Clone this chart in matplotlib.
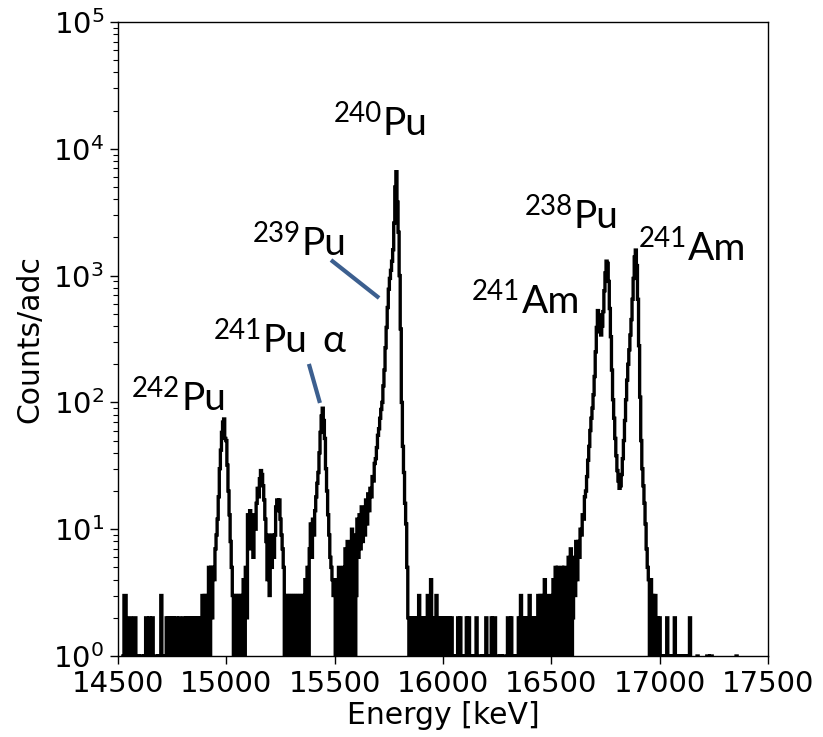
import numpy as np
import matplotlib
matplotlib.use("Agg")
import matplotlib.pyplot as plt
from matplotlib.ticker import LogLocator, NullFormatter, FixedLocator, FormatStrFormatter

# ---------------- data (counts per 5 keV bin) ----------------
E_START = 14500
BIN_KEV = 5

counts_14500 = [0, 0, 0, 0, 0, 1, 3, 3, 1, 0,
                2, 2, 0, 1, 0, 2, 2, 0, 1, 1,
                0, 1, 1, 0, 1, 0, 2, 0, 1, 2,
                0, 1, 2, 0, 0, 1, 0, 1, 0, 1,
                3, 0, 1, 0, 1, 2, 1, 2, 0, 2,
                1, 2, 0, 1, 2, 0, 1, 2, 0, 1,
                0, 2, 1, 2, 2, 0, 2, 1, 2, 0,
                2, 0, 2, 1, 2, 0, 2, 0, 3, 1,
                3, 0, 3, 0, 5, 0, 5, 2, 5, 4,
                7, 9, 12, 18, 30, 42, 58, 70, 74, 52]

counts_15000 = [50, 32, 20, 13, 8, 5, 3, 0, 3, 0,
                3, 0, 3, 0, 3, 0, 4, 0, 5, 2,
                13, 7, 14, 10, 12, 6, 13, 10, 16, 21,
                18, 25, 29, 27, 22, 17, 12, 8, 4, 9,
                3, 8, 5, 9, 6, 9, 15, 17, 14, 17,
                12, 9, 7, 5, 0, 3, 0, 3, 0, 3,
                0, 3, 1, 3, 0, 3, 0, 3, 0, 3,
                0, 3, 0, 4, 0, 5, 0, 7, 11, 6,
                12, 9, 14, 18, 23, 28, 40, 58, 78, 90,
                72, 52, 30, 20, 13, 9, 6, 5, 4, 3]

counts_15500 = [3, 0, 4, 0, 5, 0, 4, 1, 5, 0,
                7, 0, 8, 0, 6, 2, 10, 0, 9, 0,
                3, 12, 6, 13, 7, 15, 8, 14, 9, 17,
                11, 19, 14, 21, 18, 26, 24, 33, 36, 44,
                55, 62, 75, 88, 100, 135, 180, 270, 390, 560,
                780, 950, 1100, 1300, 1600, 2600, 5000, 6600, 3800, 2200,
                1000, 380, 100, 45, 28, 16, 11, 5, 2, 0,
                2, 0, 2, 1, 2, 0, 2, 0, 3, 0,
                2, 0, 2, 1, 2, 0, 3, 0, 2, 4,
                0, 2, 0, 2, 3, 0, 2, 0, 2, 0]

counts_16000 = [2, 0, 2, 1, 2, 0, 2, 0, 2, 0,
                1, 0, 1, 0, 2, 0, 2, 0, 1, 1,
                0, 1, 2, 0, 2, 1, 0, 1, 0, 1,
                0, 2, 0, 1, 1, 0, 1, 0, 1, 0,
                2, 1, 0, 1, 0, 2, 0, 2, 2, 0,
                1, 1, 0, 1, 1, 0, 1, 1, 0, 0,
                2, 2, 1, 2, 0, 1, 1, 0, 1, 0,
                2, 0, 3, 0, 2, 0, 2, 1, 2, 0,
                3, 0, 2, 0, 2, 1, 2, 0, 3, 0,
                3, 0, 3, 0, 4, 1, 3, 0, 2, 0]

counts_16500 = [3, 0, 4, 0, 5, 1, 5, 0, 4, 0,
                5, 0, 5, 1, 4, 0, 6, 0, 7, 0,
                2, 6, 3, 8, 4, 8, 6, 10, 9, 13,
                12, 18, 20, 26, 35, 45, 60, 75, 90, 115,
                160, 250, 390, 530, 490, 360, 340, 400, 520, 760,
                1050, 1300, 1250, 900, 550, 330, 180, 105, 75, 52,
                38, 29, 24, 21, 22, 27, 36, 50, 72, 105,
                150, 200, 260, 340, 450, 650, 950, 1400, 1590, 1200,
                650, 280, 110, 50, 30, 22, 16, 11, 7, 5,
                4, 0, 4, 0, 3, 0, 3, 0, 2, 0]

counts_17000 = [2, 0, 1, 0, 1, 0, 1, 2, 0, 1,
                0, 1, 0, 1, 2, 0, 1, 0, 1, 0,
                1, 0, 1, 0, 1, 0, 1, 0, 2, 0,
                0, 0, 0, 0, 0, 1, 0, 0, 0, 0,
                0, 0, 0, 0, 1, 1, 0, 1, 1, 0,
                0, 0, 0, 0, 0, 0, 0, 0, 0, 0,
                0, 0, 0, 0, 0, 0, 0, 0, 0, 0,
                0, 1, 0, 0, 0, 0, 0, 0, 0, 0,
                0, 0, 0, 0, 0, 0, 0, 0, 0, 0,
                0, 0, 0, 0, 0, 0, 0, 0, 0, 0]

counts = np.array(counts_14500 + counts_15000 + counts_15500 +
                  counts_16000 + counts_16500 + counts_17000, dtype=float)
energy = E_START + BIN_KEV * np.arange(len(counts))

x_ticks = [14500, 15000, 15500, 16000, 16500, 17000, 17500]

# isotope labels: mass number, symbol, anchor energy and count (baseline, join point)
label_mass = ["242", "241", "239", "240", "241", "238", "241"]
label_sym = ["Pu", "Pu", "Pu", "Pu", "Am", "Pu", "Am"]
label_E = [14791, 15169, 15349, 15723, 16364, 16604, 17131]
label_y = [87, 250, 1453, 12850, 507, 2373, 1327]

alpha_E = 15441
alpha_y = 250

# pointer lines (from label towards peak)
pointer_E = [(15483, 15705), (15381, 15432)]
pointer_y = [(1327, 666), (201, 99)]

# ---------------- figure ----------------
W, H = 823, 737
fig = plt.figure(figsize=(W / 100, H / 100), dpi=100)
ax = fig.add_axes([118 / W, (H - 656) / H, 650 / W, 634 / H])

ax.plot(energy, counts, drawstyle="steps-mid", color="black", lw=2.4,
        solid_joinstyle="miter")

ax.set_yscale("log")
ax.set_ylim(1, 1e5)
ax.set_xlim(14500, 17500)
ax.xaxis.set_major_locator(FixedLocator(x_ticks))
ax.xaxis.set_major_formatter(FormatStrFormatter("%d"))
ax.yaxis.set_major_locator(LogLocator(base=10, numticks=10))
ax.yaxis.set_minor_locator(LogLocator(base=10, subs=np.arange(2, 10), numticks=10))
ax.yaxis.set_minor_formatter(NullFormatter())

for sp in ax.spines.values():
    sp.set_linewidth(1.0)

ax.tick_params(axis="both", which="major", labelsize=21, length=6, width=1.0,
               direction="out", pad=4, colors="black")
ax.tick_params(axis="y", which="minor", length=3.5, width=0.8)

ax.set_xlabel("Energy [keV]", fontsize=21.5, labelpad=2)
ax.set_ylabel("Counts/adc", fontsize=21.5, labelpad=6)

lab_font = ["Lato", "DejaVu Sans"]
for m, s, e, yv in zip(label_mass, label_sym, label_E, label_y):
    ax.annotate(s, xy=(e, yv), xycoords="data", ha="left", va="baseline",
                fontsize=28, family=lab_font, color="black")
    ax.annotate(m, xy=(e, yv), xycoords="data", xytext=(-1, 9.5),
                textcoords="offset points", ha="right", va="baseline",
                fontsize=20, family=lab_font, color="black")

ax.annotate("α", xy=(alpha_E, alpha_y), xycoords="data", ha="left",
            va="baseline", fontsize=28, family=lab_font, color="black")

for pe, py in zip(pointer_E, pointer_y):
    ax.plot(pe, py, color="#3C5F8F", lw=3.0, solid_capstyle="butt")

fig.savefig("out.png", dpi=100)
